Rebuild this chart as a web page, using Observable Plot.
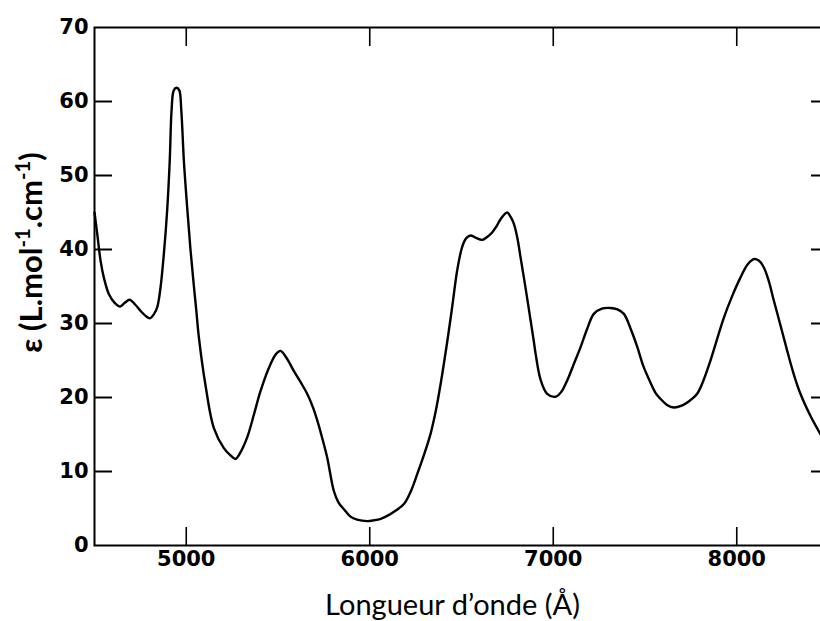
<!DOCTYPE html>
<html>
<head>
<meta charset="utf-8">
<script src="https://cdn.jsdelivr.net/npm/d3@7"></script>
<script src="https://cdn.jsdelivr.net/npm/@observablehq/plot@0.6"></script>
<style>
  html, body { margin: 0; padding: 0; background: white; overflow: hidden; }
  #chart svg { display: block; }
</style>
</head>
<body>
<div id="chart"></div>
<script>
// Wavelength (Å)
const wavelength = [
  4500, 4515, 4533, 4551, 4578, 4610, 4640, 4665, 4692, 4720, 4751, 4780, 4801, 4825, 4842,
  4860, 4878, 4896, 4910, 4920, 4932, 4947, 4962, 4973, 4987, 5005, 5023, 5041, 5055, 5068,
  5104, 5150, 5204, 5240, 5268, 5300, 5332, 5370, 5405, 5459, 5490, 5514, 5550, 5586, 5625,
  5659, 5690, 5714, 5740, 5768, 5804, 5830, 5859, 5895, 5931, 5986, 6022, 6060, 6095, 6140,
  6186, 6225, 6258, 6295, 6331, 6360, 6386, 6422, 6449, 6476, 6503, 6525, 6549, 6576, 6613,
  6640, 6667, 6690, 6713, 6749, 6770, 6785, 6805, 6822, 6840, 6858, 6876, 6894, 6904, 6931,
  6967, 7013, 7045, 7076, 7110, 7149, 7185, 7221, 7265, 7312, 7350, 7385, 7420, 7457, 7490,
  7530, 7558, 7585, 7620, 7657, 7700, 7740, 7784, 7820, 7857, 7893, 7930, 7975, 8020, 8060,
  8093, 8120, 8147, 8175, 8202, 8240, 8275, 8310, 8347, 8400, 8456, 8500
];
// Molar absorptivity ε (L.mol-1.cm-1)
const epsilon = [
  45.0, 42.1, 38.5, 36.2, 34.0, 32.8, 32.3, 32.8, 33.2, 32.6, 31.7, 31.0, 30.7, 31.3, 32.2,
  34.9, 39.4, 45.3, 52.0, 58.8, 61.5, 61.85, 61.5, 58.8, 52.0, 45.7, 40.0, 35.2, 31.7, 28.3,
  21.8, 15.9, 13.2, 12.2, 11.7, 12.8, 14.6, 17.8, 20.9, 24.5, 25.9, 26.3, 25.2, 23.6, 22.0,
  20.5, 18.7, 16.9, 14.6, 11.9, 7.4, 5.8, 4.9, 3.9, 3.5, 3.3, 3.4, 3.6, 4.0, 4.7,
  5.6, 7.4, 9.6, 12.2, 15.05, 18.2, 21.8, 27.5, 32.2, 37.1, 40.3, 41.5, 41.9, 41.6, 41.3,
  41.7, 42.3, 43.1, 44.1, 45.0, 44.3, 43.5, 41.5, 38.9, 36.2, 33.4, 30.5, 27.6, 25.9, 22.4,
  20.5, 20.1, 20.8, 22.3, 24.4, 26.8, 29.3, 31.3, 32.0, 32.1, 31.9, 31.3, 29.4, 26.9, 24.3,
  22.0, 20.6, 19.8, 19.0, 18.65, 18.9, 19.5, 20.5, 22.4, 25.0, 27.9, 30.8, 33.7, 36.2, 38.0,
  38.7, 38.5, 37.6, 35.7, 33.1, 29.6, 26.3, 23.2, 20.5, 17.6, 15.05, 13.2
];
const xTicks = [5000, 6000, 7000, 8000];
const yTickLabels = [0, 10, 20, 30, 40, 50, 60, 70];
const yTickMarks = [10, 20, 30, 40, 50, 60];
const xTitle = "Longueur d’onde (Å)";
const yTitle = "ε (L.mol-1.cm-1)";

const data = wavelength.map((w, i) => ({w, e: epsilon[i]}));
const blank = () => "";

const chart = Plot.plot({
  width: 820,
  height: 621,
  marginLeft: 94,
  marginRight: -8,
  marginTop: 27,
  marginBottom: 76,
  style: {fontFamily: "DejaVu Sans", fontWeight: "bold", fontSize: "21px", color: "black", background: "white"},
  x: {domain: [4500, 8500]},
  y: {domain: [0, 70]},
  marks: [
    Plot.frame({stroke: "black", strokeWidth: 2}),
    Plot.axisY(yTickMarks, {anchor: "left", tickSize: -18, tickFormat: blank, strokeWidth: 2, label: null}),
    Plot.axisY(yTickLabels, {anchor: "left", tickSize: 0, tickPadding: 6, tickFormat: "d", label: null, fill: "black"}),
    Plot.axisY(yTickMarks, {anchor: "right", tickSize: -18, tickFormat: blank, strokeWidth: 2, label: null}),
    Plot.axisX(xTicks, {anchor: "bottom", tickSize: -18, tickFormat: blank, strokeWidth: 1.6, label: null}),
    Plot.axisX(xTicks, {anchor: "bottom", tickSize: 0, tickPadding: 6, tickFormat: "d", label: null, fill: "black"}),
    Plot.axisX(xTicks, {anchor: "top", tickSize: -18, tickFormat: blank, strokeWidth: 1.6, label: null}),
    Plot.line(data, {x: "w", y: "e", stroke: "black", strokeWidth: 2.4, curve: "catmull-rom"}),
    Plot.text([xTitle], {frameAnchor: "bottom", text: d => d, textAnchor: "middle", dx: -9, dy: 60, lineAnchor: "middle",
      fontFamily: "Lato", fontWeight: "normal", fontSize: 29, fill: "black"}),
    Plot.text([yTitle], {frameAnchor: "left", text: d => d, textAnchor: "middle", rotate: -90, dx: -62, dy: -34, lineAnchor: "middle",
      fontFamily: "Lato", fontWeight: "bold", fontSize: 31, fill: "black"})
  ]
});
document.getElementById("chart").appendChild(chart);

// Render the "-1" exponents of the y title as superscripts
d3.select(chart).selectAll("text").filter(function() { return this.textContent === yTitle; })
  .each(function() {
    const t = d3.select(this);
    t.text(null);
    const parts = [["ε (L.mol", false], ["-1", true], [".cm", false], ["-1", true], [")", false]];
    for (const [s, sup] of parts) {
      const ts = t.append("tspan").text(s);
      if (sup) ts.attr("baseline-shift", "super").attr("font-size", "65%");
    }
  });
</script>
</body>
</html>
